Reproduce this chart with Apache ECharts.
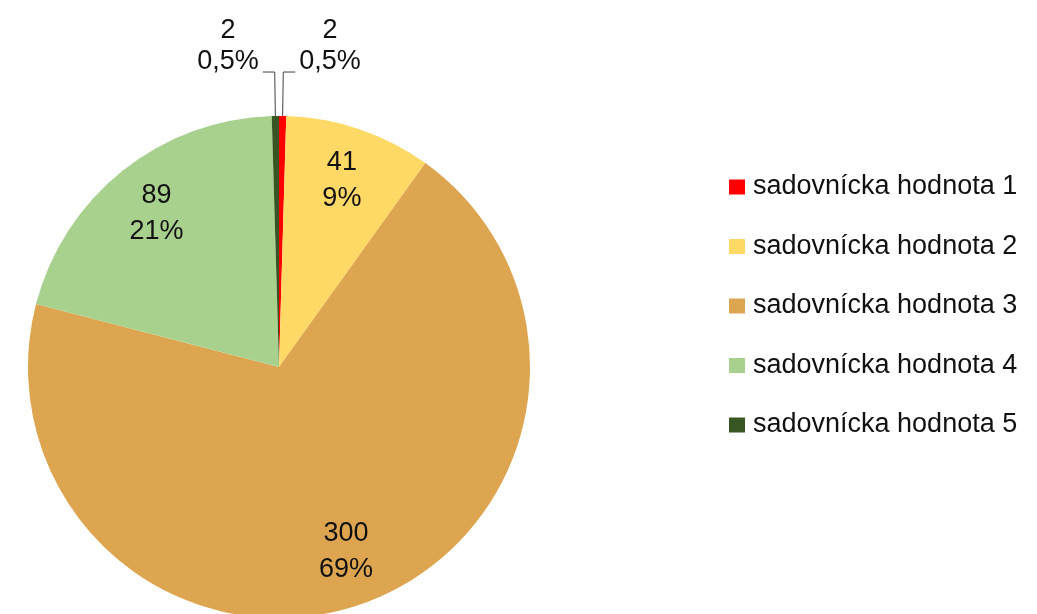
<!DOCTYPE html>
<html>
<head>
<meta charset="utf-8">
<script src="https://cdn.jsdelivr.net/npm/echarts@6/dist/echarts.min.js"></script>
<style>html,body{margin:0;padding:0;background:#fff;}#c{width:1037px;height:614px;}</style>
</head>
<body>
<div id="c"></div>
<script>
const categories = ['sadovnícka hodnota 1','sadovnícka hodnota 2','sadovnícka hodnota 3','sadovnícka hodnota 4','sadovnícka hodnota 5'];
const values = [2, 41, 300, 89, 2];
const colors = ['#FF0000', '#FFD966', '#DDA54F', '#A9D18E', '#375623'];

const total = values.reduce((a, b) => a + b, 0);
const FONT = '"Liberation Sans", Arial, sans-serif';
function pct(p) {
  return p < 1 ? p.toFixed(1).replace('.', ',') + '%' : Math.round(p) + '%';
}
const isSmall = v => v / total < 0.02;

const mainData = categories.map((n, i) => ({
  name: n, value: values[i],
  itemStyle: { color: colors[i] },
  label: { show: isSmall(values[i]) },
  labelLine: { show: isSmall(values[i]) }
}));
const labelData = categories.map((n, i) => ({
  name: n, value: values[i],
  label: { show: !isSmall(values[i]) }
}));

const chart = echarts.init(document.getElementById('c'), null, { renderer: 'canvas' });
chart.setOption({
  backgroundColor: '#fff',
  animation: false,
  legend: {
    orient: 'vertical', left: 729, top: 172, padding: 0,
    itemWidth: 16, itemHeight: 15, itemGap: 29.5, icon: 'rect',
    data: categories,
    textStyle: { fontFamily: FONT, fontSize: 27, color: '#111', lineHeight: 30, padding: [0, 0, 0, 3] }
  },
  series: [
    {
      type: 'pie', center: [279, 367], radius: 251, startAngle: 90, clockwise: true,
      avoidLabelOverlap: false, silent: true,
      emphasis: { disabled: true },
      data: mainData,
      label: {
        position: 'outside',
        formatter: p => '{c|' + p.value + '}\n{c|' + pct(p.percent) + '}',
        padding: [0, 0, 52, 0],
        distanceToLabelLine: 4,
        rich: { c: { fontFamily: FONT, fontSize: 27, color: '#111', lineHeight: 31, align: 'center' } }
      },
      labelLine: { length: 44, length2: 12, smooth: false, lineStyle: { color: '#404040', width: 1 } }
    },
    {
      type: 'pie', center: [279, 367], radius: [136, 251], startAngle: 90, clockwise: true,
      avoidLabelOverlap: false, silent: true,
      emphasis: { disabled: true },
      itemStyle: { color: 'rgba(0,0,0,0)', borderWidth: 0 },
      data: labelData,
      label: {
        position: 'inside',
        formatter: p => p.value + '\n' + pct(p.percent),
        fontFamily: FONT, fontSize: 27, color: '#111', lineHeight: 36
      },
      labelLine: { show: false }
    }
  ]
});
</script>
</body>
</html>
